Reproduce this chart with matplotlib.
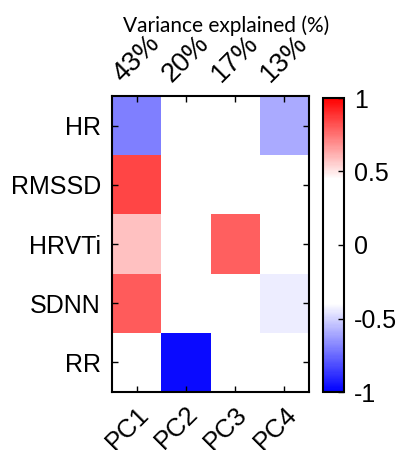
import numpy as np
import matplotlib
matplotlib.use("Agg")
import matplotlib.pyplot as plt
from matplotlib.colors import LinearSegmentedColormap

rows = ["HR", "RMSSD", "HRVTi", "SDNN", "RR"]
cols = ["PC1", "PC2", "PC3", "PC4"]
variance = ["43%", "20%", "17%", "13%"]
loadings = np.array([
    [-0.70, 0.00, 0.00, -0.60],
    [0.85, 0.00, 0.00, 0.00],
    [0.58, 0.00, 0.79, 0.00],
    [0.80, 0.00, 0.00, -0.44],
    [0.00, -0.97, 0.00, 0.00],
])

plt.rcParams['font.family'] = ['Liberation Sans', 'DejaVu Sans']

def pos(v):
    return (v + 1) / 2

cmap = LinearSegmentedColormap.from_list(
    "bwr_sparse",
    [(pos(-1), (0, 0, 1)), (pos(-0.4), (1, 1, 1)), (pos(0.45), (1, 1, 1)), (pos(1), (1, 0, 0))],
)

W, H = 398, 450
fig = plt.figure(figsize=(W / 100, H / 100), dpi=100)
ax = fig.add_axes([112 / W, 1 - 392 / H, (309 - 112) / W, (392 - 96) / H])
cax = fig.add_axes([323 / W, 1 - 392 / H, (344 - 323) / W, (392 - 98) / H])

x = np.arange(len(cols) + 1)
y = np.arange(len(rows) + 1)
mesh = ax.pcolormesh(x, y, loadings, cmap=cmap, vmin=-1, vmax=1)
ax.set_xlim(0, len(cols))
ax.set_ylim(len(rows), 0)

ax.set_yticks(np.arange(len(rows)) + 0.5)
ax.set_yticklabels(rows, fontsize=18)
ax.set_xticks(np.arange(len(cols)) + 0.5)
ax.set_xticklabels(cols, fontsize=18.5, rotation=45, ha='right', va='top',
                   rotation_mode='anchor')
ax.tick_params(direction='in', length=4, width=1, top=True, right=True, pad=8)
ax.tick_params(axis='x', pad=7)
for s in ax.spines.values():
    s.set_linewidth(1.5)

sec = ax.secondary_xaxis('top')
sec.set_xticks(np.arange(len(cols)) + 0.5)
sec.set_xticklabels(variance, fontsize=19.5, rotation=45, ha='center', va='bottom')
sec.tick_params(direction='in', length=0, pad=6)
sec.spines['top'].set_visible(False)

cb = fig.colorbar(mesh, cax=cax, ticks=[-1, -0.5, 0, 0.5, 1])
cb.ax.set_yticklabels(["-1", "-0.5", "0", "0.5", "1"], fontsize=18)
cb.ax.tick_params(direction='in', length=4, width=1, pad=7)
cb.outline.set_linewidth(1.5)

fig.text(226 / W, 1 - 32 / H, "Variance explained (%)", fontsize=15,
         family=['Lato', 'DejaVu Sans'], ha='center', va='baseline')

fig.savefig("out.png", dpi=100)
